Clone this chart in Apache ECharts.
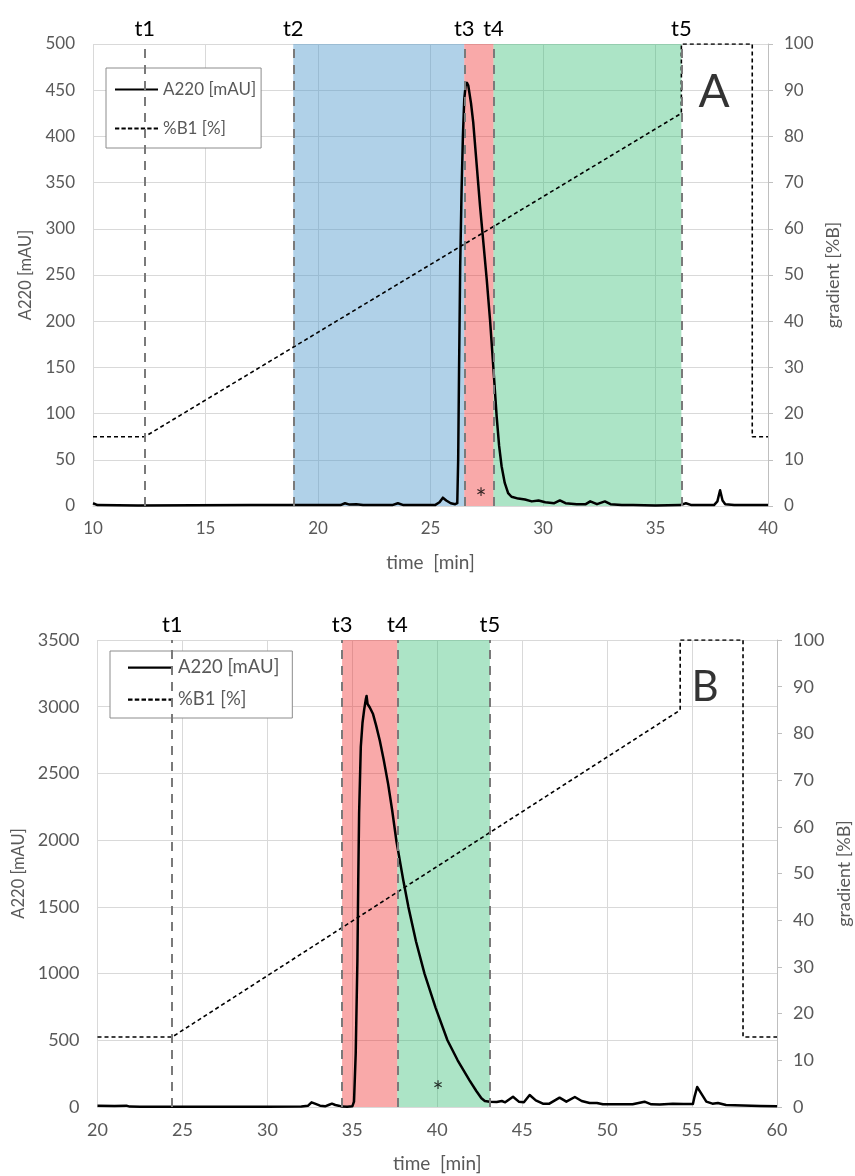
<!DOCTYPE html>
<html>
<head>
<meta charset="utf-8">
<script src="https://cdn.jsdelivr.net/npm/echarts@6/dist/echarts.min.js"></script>
<style>
html,body{margin:0;padding:0;background:#fff;}
#chart{width:855px;height:1176px;}
</style>
</head>
<body>
<div id="chart"></div>
<script>
// ---------- Panel A data ----------
const timeA = [10.0,10.2,12.0,17.0,18.9,20.5,21.0,21.2,21.4,21.7,22.0,23.3,23.55,23.8,25.2,25.4,25.55,25.7,25.9,26.1,26.19,26.23,26.27,26.32,26.38,26.44,26.5,26.56,26.62,26.68,26.8,26.9,27.05,27.2,27.35,27.5,27.65,27.79,27.94,28.05,28.16,28.3,28.45,28.6,28.9,29.2,29.5,29.8,30.1,30.5,30.75,31.0,31.5,31.9,32.1,32.4,32.75,33.0,33.5,34.0,35.0,36.1,36.35,36.6,37.6,37.75,37.87,37.98,38.1,38.5,39.0,40.0];
const a220A = [3,1,0.5,1,1,1,1,3,1.5,2,1,1,3,1,1,4,9,6,3,2,3,50,150,260,340,400,440,455,458,455,436,415,370,325,285,245,200,151,97,65,43,25,14,10,8,7,5,6,4,3,6,3,2,2,5,2,5,2,1,1,0.5,1,3,1,1,5,17,6,2,1,1,1];
const gradTimeA = [10,12.3,36.15,36.15,39.3,39.3,40];
const gradA = [15,15,85,100,100,15,15];
const markersA = [['t1',12.3],['t2',18.9],['t3',26.5],['t4',27.8],['t5',36.15]];
const bandsA = [[18.9,26.5,'blue'],[26.5,27.8,'red'],[27.8,36.15,'green']];
const xTicksA = [10,15,20,25,30,35,40];
const yTicksA = [0,50,100,150,200,250,300,350,400,450,500];

// ---------- Panel B data ----------
const timeB = [20,21,21.7,21.9,22.5,25,30,32,32.4,32.6,32.8,33.1,33.4,33.6,33.8,34.0,34.2,34.4,34.7,35.0,35.1,35.2,35.3,35.35,35.4,35.45,35.5,35.6,35.7,35.8,35.84,35.9,36.03,36.22,36.4,36.62,36.85,37.11,37.35,37.6,38.0,38.3,38.75,39.25,39.9,40.6,41.2,41.9,42.3,42.6,42.8,43.09,43.5,43.8,44.0,44.46,44.8,45.1,45.44,45.8,46.22,46.6,47.2,47.6,48.1,48.5,48.97,49.4,49.75,50.5,51.5,52.2,52.6,53.1,53.87,54.5,55.05,55.15,55.3,55.5,55.84,56.2,56.52,57.0,58,59,60];
const a220B = [10,8,10,3,2,2,2,3,10,35,25,10,5,15,25,15,10,3,2,5,40,400,1100,1700,2200,2450,2700,2880,2980,3060,3081,3020,2994,2945,2860,2745,2600,2420,2220,1990,1700,1500,1240,1000,745,500,350,200,120,65,45,40,38,45,35,77,40,35,90,50,25,25,70,40,75,45,30,30,20,20,20,40,20,18,25,22,22,80,150,110,40,25,30,15,12,8,5];
const gradTimeB = [20,24.4,54.3,54.3,58,58,60];
const gradB = [15,15,85,100,100,15,15];
const markersB = [['t1',24.4],['t3',34.4],['t4',37.65],['t5',43.1]];
const bandsB = [[34.4,37.65,'red'],[37.65,43.1,'green']];
const xTicksB = [20,25,30,35,40,45,50,55,60];
const yTicksB = [0,500,1000,1500,2000,2500,3000,3500];
const gradTicks = [0,10,20,30,40,50,60,70,80,90,100];

// annotations
const starA = [27.25, 15];
const starB = [40.05, 164];
const labelA = [37.6, 448];
const labelB = [55.76, 3141];

const FONT = 'Lato, "Liberation Sans", sans-serif';
const GRAY = '#595959';
const bandColor = {
  blue: 'rgba(80,153,204,0.45)',
  red: 'rgba(240,40,40,0.4)',
  green: 'rgba(48,187,112,0.4)'
};
const ICON_SOLID = 'path://M0,0H40V2H0Z';
let dashPath = 'path://';
for (let x = 0; x < 40; x += 6) dashPath += 'M' + x + ',0h4v2h-4z';
const ICON_DASH = dashPath;

function zip(a, b) { return a.map((v, i) => [v, b[i]]); }

function panel(idx, time, a220, gt, g, markers, bands, star, lbl, lblText, fs) {
  const xi = idx, yl = idx * 2, yr = idx * 2 + 1;
  return [
    { name: 'A220 [mAU]', type: 'line', xAxisIndex: xi, yAxisIndex: yl, data: zip(time, a220),
      symbol: 'none', smooth: false,
      lineStyle: { color: '#000', width: 2.5, join: 'round' }, itemStyle: { color: '#000' }, z: 2 },
    { name: '%B1 [%]', type: 'line', xAxisIndex: xi, yAxisIndex: yr, data: zip(gt, g),
      symbol: 'none', lineStyle: { color: '#000', width: 1.6, type: [4, 3] }, itemStyle: { color: '#000' }, z: 3 },
    { name: 'bands' + idx, type: 'line', xAxisIndex: xi, yAxisIndex: yl, data: [], z: 5, silent: true,
      markArea: { silent: true,
        data: bands.map(b => [{ xAxis: b[0], itemStyle: { color: bandColor[b[2]] } }, { xAxis: b[1] }]) } },
    { name: 'markers' + idx, type: 'line', xAxisIndex: xi, yAxisIndex: yl, data: [], z: 6, silent: true,
      markLine: { silent: true, symbol: ['none', 'none'],
        lineStyle: { color: '#7a7a7a', width: 2, type: [9, 7] },
        label: { show: true, position: 'end', formatter: '{b}', color: '#000', fontSize: 22, fontFamily: FONT, distance: 4 },
        data: markers.map(m => ({ name: m[0], xAxis: m[1] })) } },
    { name: 'notes' + idx, type: 'scatter', xAxisIndex: xi, yAxisIndex: yl, z: 7, silent: true,
      symbolSize: 1, itemStyle: { color: 'rgba(0,0,0,0)' },
      data: [
        { value: star, label: { show: true, position: 'inside', formatter: '*', fontSize: 26, color: '#000', fontFamily: FONT, offset: [0, 7] } },
        { value: lbl, label: { show: true, position: 'inside', formatter: lblText, fontSize: fs, color: '#000', fontFamily: FONT } }
      ] }
  ];
}

const splitLine = { show: true, lineStyle: { color: '#d9d9d9', width: 1 } };
const plain = v => String(v);

function xAxis(gi, ticks, fs) {
  return { type: 'value', gridIndex: gi, min: ticks[0], max: ticks[ticks.length - 1], interval: ticks[1] - ticks[0],
    name: 'time  [min]', nameLocation: 'middle', nameGap: 47,
    nameTextStyle: { color: GRAY, fontSize: 19, fontFamily: FONT },
    axisLine: { show: true, lineStyle: { color: '#d9d9d9' } }, axisTick: { show: false },
    axisLabel: { color: GRAY, fontSize: fs, fontFamily: FONT, margin: 14, formatter: plain }, splitLine };
}
function yLeft(gi, ticks, gap, fs) {
  return { type: 'value', gridIndex: gi, min: ticks[0], max: ticks[ticks.length - 1], interval: ticks[1] - ticks[0],
    name: 'A220 [mAU]', nameLocation: 'middle', nameGap: gap, nameRotate: 90,
    nameTextStyle: { color: GRAY, fontSize: 16.5, fontFamily: FONT },
    axisLine: { show: false }, axisTick: { show: false },
    axisLabel: { color: GRAY, fontSize: fs, fontFamily: FONT, margin: 18, formatter: plain }, splitLine };
}
function yRight(gi, ticks, gap, fs) {
  return { type: 'value', gridIndex: gi, position: 'right', min: ticks[0], max: ticks[ticks.length - 1], interval: ticks[1] - ticks[0],
    name: 'gradient [%B]', nameLocation: 'middle', nameGap: gap, nameRotate: 90,
    nameTextStyle: { color: GRAY, fontSize: 18, fontFamily: FONT },
    axisLine: { show: true, lineStyle: { color: '#bfbfbf' } },
    axisTick: { show: true, inside: false, length: 5, lineStyle: { color: '#bfbfbf' } },
    axisLabel: { color: GRAY, fontSize: fs, fontFamily: FONT, margin: 16, formatter: plain }, splitLine: { show: false } };
}

const chart = echarts.init(document.getElementById('chart'), null, { renderer: 'canvas' });
chart.setOption({
  backgroundColor: '#fff',
  animation: false,
  grid: [
    { left: 93, right: 87, top: 44, height: 462, containLabel: false, outerBoundsMode: 'none' },
    { left: 97.5, right: 78, top: 640, height: 467, containLabel: false, outerBoundsMode: 'none' }
  ],
  xAxis: [xAxis(0, xTicksA, 17), xAxis(1, xTicksB, 18)],
  yAxis: [yLeft(0, yTicksA, 56, 17), yRight(0, gradTicks, 52, 17), yLeft(1, yTicksB, 64, 18), yRight(1, gradTicks, 58, 18)],
  legend: [
    { data: [{ name: 'A220 [mAU]', icon: ICON_SOLID }, { name: '%B1 [%]', icon: ICON_DASH }],
      orient: 'vertical', left: 106, top: 68,
      padding: [13, 5, 11, 9], itemGap: 22, itemWidth: 43, itemHeight: 2.5,
      backgroundColor: '#fff', borderColor: '#8c8c8c', borderWidth: 1, borderRadius: 0,
      textStyle: { color: GRAY, fontSize: 17, fontFamily: FONT } },
    { data: [{ name: 'A220 [mAU]', icon: ICON_SOLID }, { name: '%B1 [%]', icon: ICON_DASH }],
      orient: 'vertical', left: 110, top: 651,
      padding: [7, 13, 9, 18], itemGap: 13, itemWidth: 45, itemHeight: 2.5,
      backgroundColor: '#fff', borderColor: '#8c8c8c', borderWidth: 1, borderRadius: 0,
      textStyle: { color: GRAY, fontSize: 18.5, fontFamily: FONT } }
  ],
  series: [].concat(
    panel(0, timeA, a220A, gradTimeA, gradA, markersA, bandsA, starA, labelA, 'A', 46),
    panel(1, timeB, a220B, gradTimeB, gradB, markersB, bandsB, starB, labelB, 'B', 42)
  )
});
</script>
</body>
</html>
